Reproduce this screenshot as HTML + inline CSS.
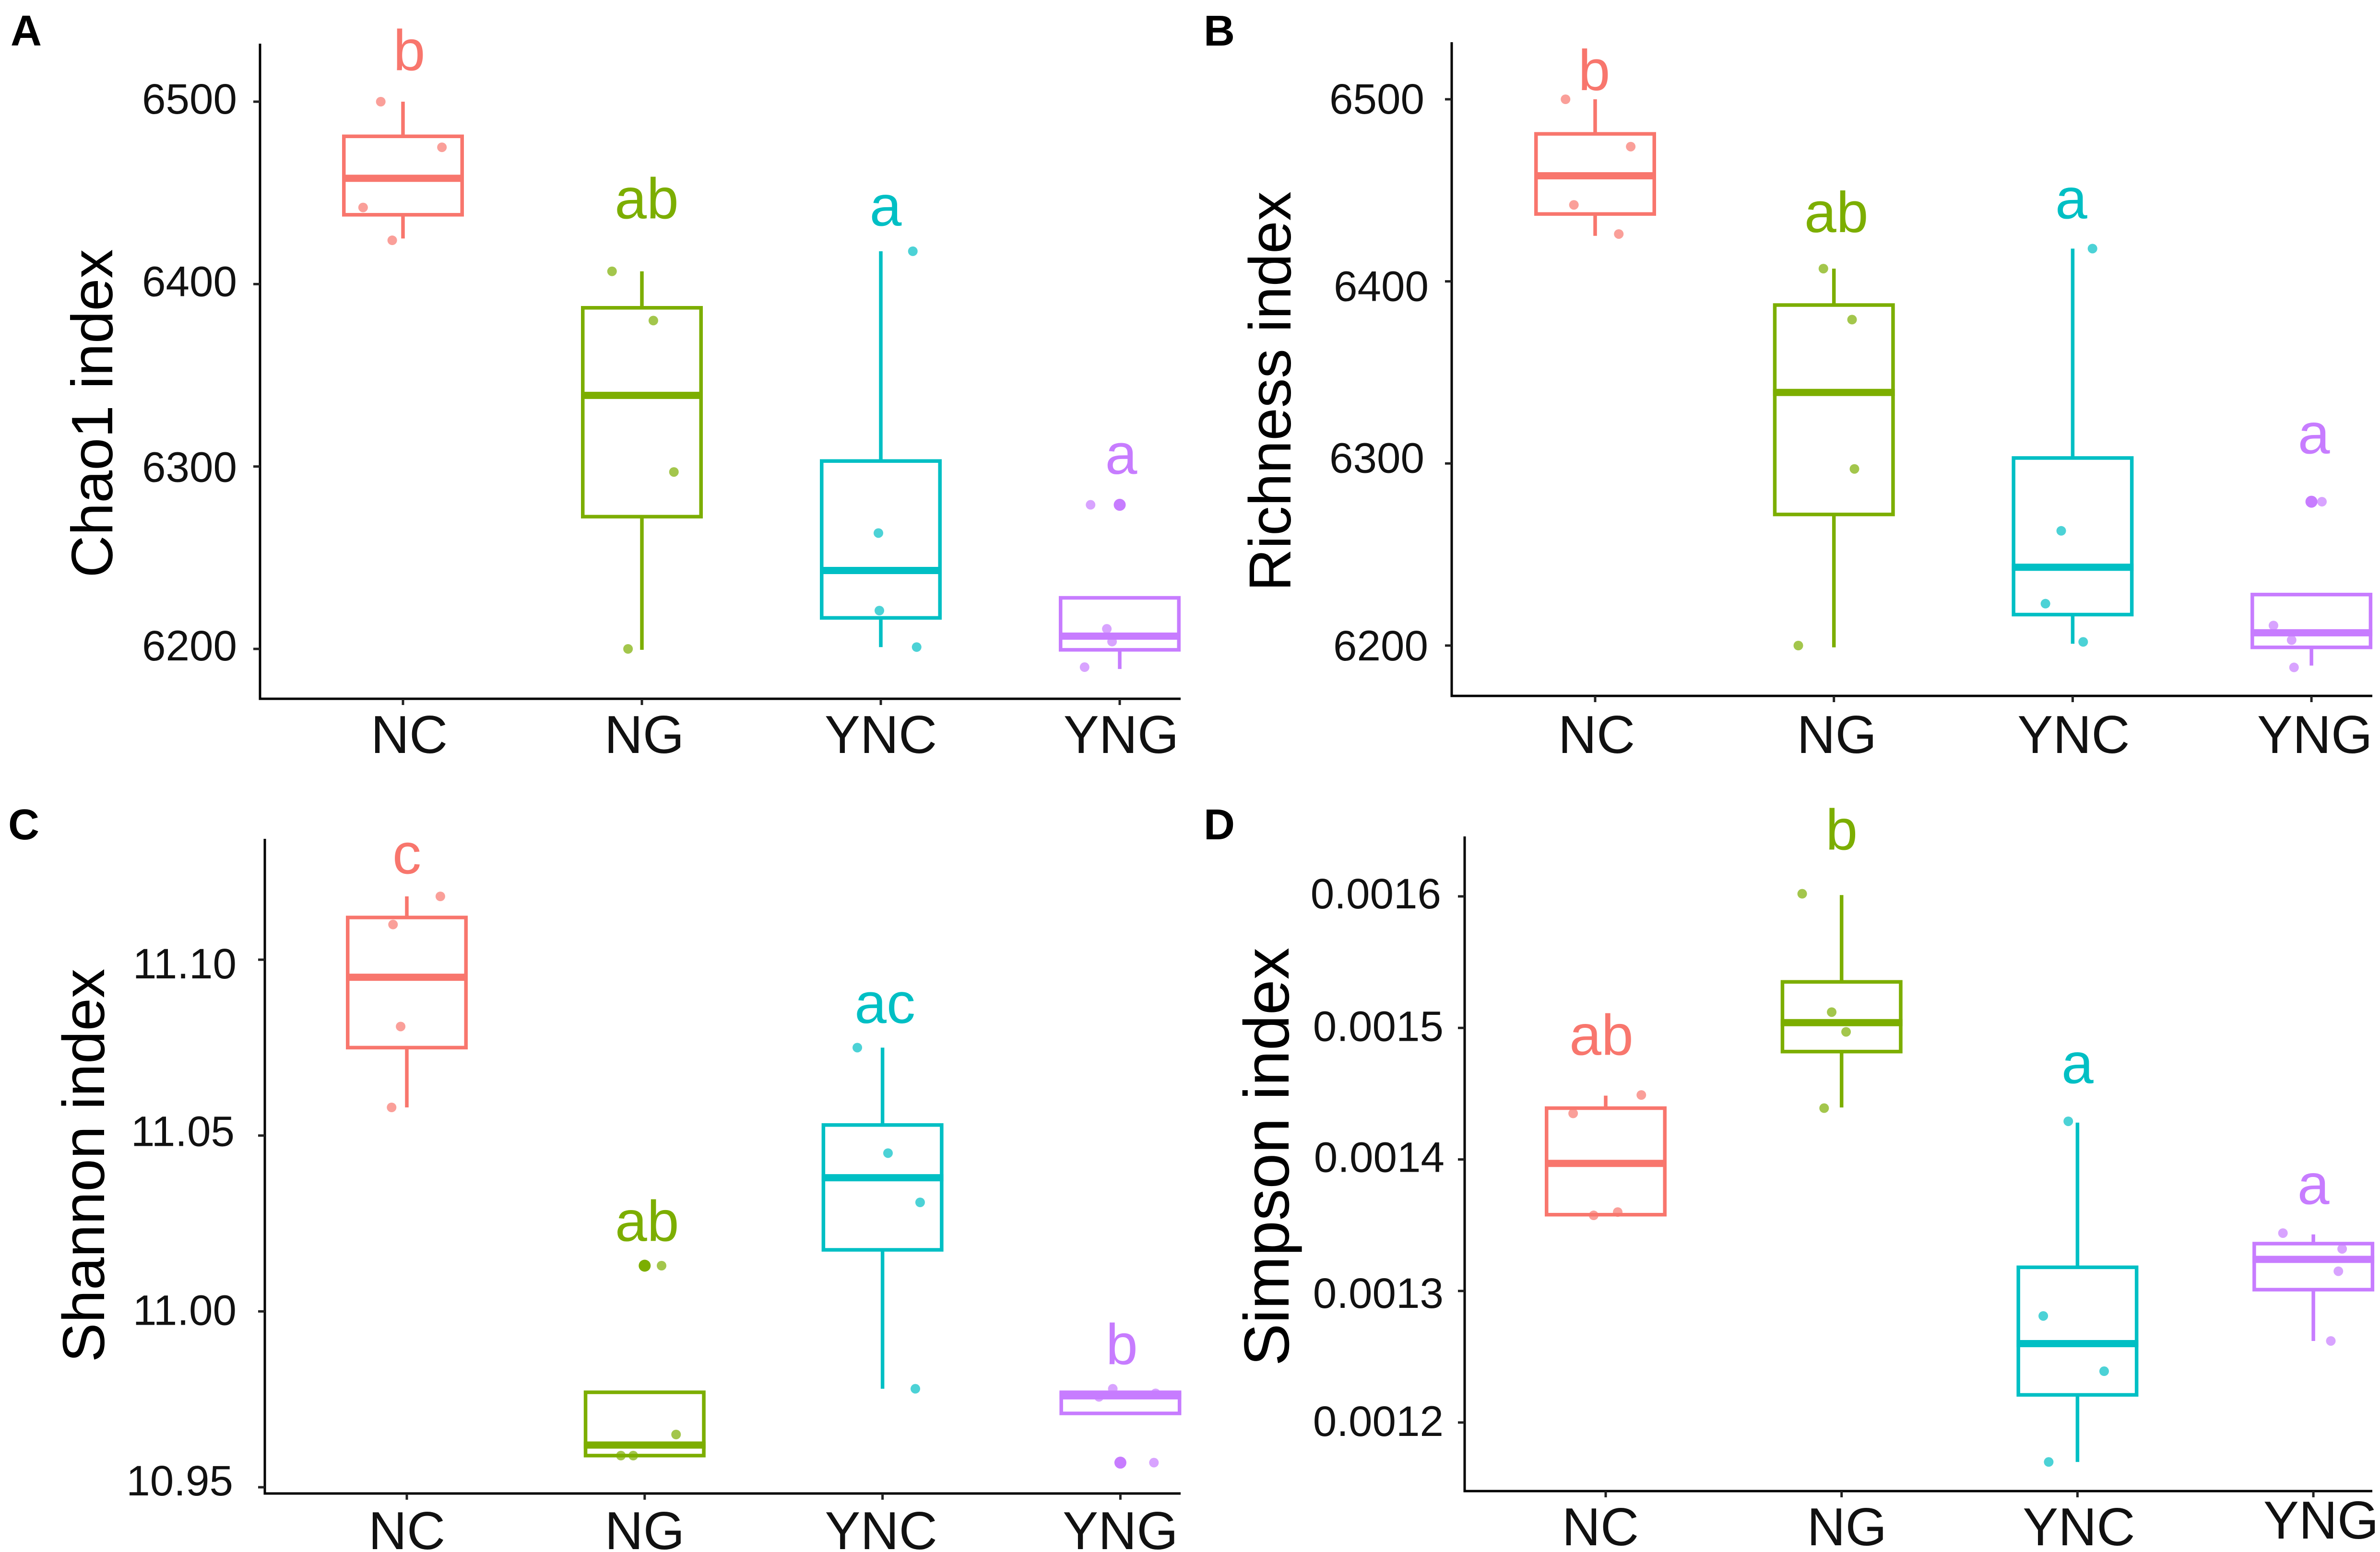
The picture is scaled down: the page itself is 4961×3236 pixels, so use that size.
<!DOCTYPE html>
<html lang="en">
<head>
<meta charset="utf-8">
<title>Alpha diversity boxplots</title>
<style>
html,body{margin:0;padding:0;background:#fff}
svg{display:block}
text{font-family:"Liberation Sans",Arial,sans-serif}
</style>
</head>
<body>
<svg id="chart" xmlns="http://www.w3.org/2000/svg" width="4961" height="3236" viewBox="0 0 4961 3236"></svg>
<script>
const categories = ['NC', 'NG', 'YNC', 'YNG'];
const colors = ['#F8766D', '#7CAE00', '#00BFC4', '#C77CFF'];

// Panel A
const chaoTicks = [6500, 6400, 6300, 6200];
const chaoTickLabels = ['6500', '6400', '6300', '6200'];
const chaoQ1 = [6438, 6272.5, 6217, 6199.5];
const chaoMedian = [6458, 6339, 6243, 6207];
const chaoQ3 = [6481, 6387, 6303, 6228];
const chaoWhiskerLow = [6425, 6199.5, 6201, 6189];
const chaoWhiskerHigh = [6500, 6407, 6418, 6228];
const chaoOutliers = [null, null, null, 6279];
const chaoPoints = [[6500, 6475, 6442, 6424], [6407, 6380, 6297, 6200], [6418, 6263.5, 6221, 6201], [6279, 6211, 6204, 6190]];
const chaoJitter = [[-0.093, 0.163, -0.167, -0.045], [-0.125, 0.048, 0.134, -0.058], [0.134, -0.01, -0.006, 0.15], [-0.122, -0.054, -0.032, -0.147]];
const chaoLetters = ['b', 'ab', 'a', 'a'];
const chaoLetterLevels = [6517.2, 6436, 6432, 6296];

// Panel B
const richTicks = [6500, 6400, 6300, 6200];
const richTickLabels = ['6500', '6400', '6300', '6200'];
const richQ1 = [6437, 6272, 6217, 6199];
const richMedian = [6458, 6339, 6243, 6207];
const richQ3 = [6481, 6387, 6303, 6228];
const richWhiskerLow = [6425, 6199, 6201, 6189];
const richWhiskerHigh = [6500, 6407, 6418, 6228];
const richOutliers = [null, null, null, 6279];
const richPoints = [[6500, 6474, 6442, 6426], [6407, 6379, 6297, 6200], [6418, 6263, 6223, 6202], [6279, 6211, 6203, 6188]];
const richJitter = [[-0.124, 0.149, -0.089, 0.099], [-0.044, 0.076, 0.086, -0.149], [0.083, -0.048, -0.114, 0.044], [0.044, -0.159, -0.083, -0.073]];
const richLetters = ['b', 'ab', 'a', 'a'];
const richLetterLevels = [6505, 6427, 6434.5, 6305.5];

// Panel C
const shanTicks = [11.10, 11.05, 11.00, 10.95];
const shanTickLabels = ['11.10', '11.05', '11.00', '10.95'];
const shanQ1 = [11.075, 10.959, 11.0175, 10.971];
const shanMedian = [11.095, 10.962, 11.038, 10.976];
const shanQ3 = [11.112, 10.977, 11.053, 10.977];
const shanWhiskerLow = [11.058, 10.959, 10.978, 10.971];
const shanWhiskerHigh = [11.118, 10.977, 11.075, 10.977];
const shanOutliers = [null, 11.013, null, 10.957];
const shanPoints = [[11.118, 11.110, 11.081, 11.058], [11.013, 10.965, 10.959, 10.959], [11.075, 11.045, 11.031, 10.978], [10.978, 10.9757, 10.9767, 10.957]];
const shanJitter = [[0.141, -0.058, -0.026, -0.064], [0.071, 0.132, -0.1, -0.048], [-0.106, 0.023, 0.158, 0.138], [-0.032, -0.09, 0.148, 0.141]];
const shanLetters = ['c', 'ab', 'ac', 'b'];
const shanLetterLevels = [11.1245, 11.0200, 11.082, 10.985];

// Panel D
const simpTicks = [0.0016, 0.0015, 0.0014, 0.0013, 0.0012];
const simpTickLabels = ['0.0016', '0.0015', '0.0014', '0.0013', '0.0012'];
const simpQ1 = [0.001358, 0.001482, 0.001221, 0.001301];
const simpMedian = [0.001397, 0.001504, 0.00126, 0.001324];
const simpQ3 = [0.001439, 0.001535, 0.001318, 0.001336];
const simpWhiskerLow = [0.001358, 0.0014395, 0.00117, 0.001262];
const simpWhiskerHigh = [0.0014485, 0.001601, 0.001428, 0.001343];
const simpOutliers = [null, null, null, null];
const simpPoints = [[0.001449, 0.001435, 0.0013575, 0.00136], [0.001602, 0.001512, 0.001497, 0.001439], [0.001429, 0.001281, 0.001239, 0.00117], [0.001344, 0.001332, 0.001315, 0.001262]];
const simpJitter = [[0.151, -0.138, -0.051, 0.051], [-0.167, -0.042, 0.019, -0.074], [-0.039, -0.145, 0.113, -0.122], [-0.129, 0.122, 0.106, 0.074]];
const simpLetters = ['ab', 'b', 'a', 'a'];
const simpLetterLevels = [0.0014795, 0.0016355, 0.001458, 0.001366];

const NS = 'http://www.w3.org/2000/svg';
const root = document.getElementById('chart');

function node(tag, parent, props) {
  const el = document.createElementNS(NS, tag);
  for (const k in props) el.setAttribute(k, props[k]);
  parent.appendChild(el);
  return el;
}

function drawPanel(p) {
  const g = node('g', root, {});
  
  

  const xScale = i => p.x0 + i * p.dx;
  const yScale = v => p.yA + (v - p.tickA) * (p.yB - p.yA) / (p.tickB - p.tickA);

  const tag = node('text', g, {x: p.tagX, y: p.tagY, 'font-size': 90, 'font-weight': 'bold', fill: '#000'});
  
  
  tag.textContent = p.id;

  const title = node('text', g, {
    x: 0, y: 0, 'font-size': p.titleSize, fill: '#000', 'text-anchor': 'middle',
    transform: 'translate(' + p.titleX + ' ' + p.titleY + ') rotate(-90)'
  });
  
  
  title.textContent = p.title;

  const yAxis = node('line', g, {x1: p.axisX, x2: p.axisX, y1: p.axisTop, y2: p.axisBottom + 2.5, stroke: '#000', 'stroke-width': 5});
  
  

  const xAxis = node('line', g, {x1: p.axisX, x2: p.axisRight, y1: p.axisBottom, y2: p.axisBottom, stroke: '#000', 'stroke-width': 5});
  
  

  p.ticks.forEach((t, i) => {
    const py = yScale(t);
    const mark = node('line', g, {x1: p.axisX - 14, x2: p.axisX, y1: py, y2: py, stroke: '#222', 'stroke-width': 5});
    
    
    const lab = node('text', g, {x: p.tickRight[i], y: py + p.tickDy[i] + 32, 'font-size': 89, fill: '#111', 'text-anchor': 'end'});
    
    
    lab.textContent = p.tickLabels[i];
  });

  categories.forEach((c, i) => {
    const cx = xScale(i);
    const col = colors[i];
    const hw = 127;

    const mark = node('line', g, {x1: cx, x2: cx, y1: p.axisBottom, y2: p.axisBottom + 13, stroke: '#222', 'stroke-width': 5});
    
    

    const lab = node('text', g, {x: cx + p.xLabelDx[i], y: p.xLabelY[i], 'font-size': 111, fill: '#111', 'text-anchor': 'middle'});
    
    
    lab.textContent = c;

    const wHi = node('line', g, {x1: cx, x2: cx, y1: yScale(p.hi[i]), y2: yScale(p.q3[i]), stroke: col, 'stroke-width': 7.5});
    
    

    const wLo = node('line', g, {x1: cx, x2: cx, y1: yScale(p.q1[i]), y2: yScale(p.lo[i]), stroke: col, 'stroke-width': 7.5});
    
    

    const box = node('rect', g, {
      x: cx - hw + 3.75, width: 2 * hw - 7.5,
      y: yScale(p.q3[i]), height: yScale(p.q1[i]) - yScale(p.q3[i]),
      fill: 'none', stroke: col, 'stroke-width': 7.5
    });
    
    

    const med = node('line', g, {x1: cx - hw, x2: cx + hw, y1: yScale(p.median[i]), y2: yScale(p.median[i]), stroke: col, 'stroke-width': 15});
    
    

    if (p.outliers[i] !== null) {
      const out = node('circle', g, {cx: cx, cy: yScale(p.outliers[i]), r: 12.5, fill: col});
      
      
    }

    p.points[i].forEach((v, j) => {
      const dot = node('circle', g, {cx: cx + p.jitter[i][j] * p.dx, cy: yScale(v), r: 10, fill: col, 'fill-opacity': 0.7});
      
      
    });

    const letter = node('text', g, {x: cx + p.letterDx[i], y: yScale(p.letterLevels[i]), 'font-size': 120, fill: col, 'text-anchor': 'middle'});
    
    
    letter.textContent = p.letters[i];
  });
}

drawPanel({
  id: 'A', title: 'Chao1 index', titleSize: 122, tagX: 22, tagY: 95, titleX: 234, titleY: 862,
  x0: 840, dx: 498, axisX: 542, axisTop: 91, axisBottom: 1457, axisRight: 2461,
  tickA: 6200, yA: 1353, tickB: 6500, yB: 212,
  tickRight: [494, 494, 494, 494], tickDy: [-7, -7, 0, -8],
  xLabelDx: [13, 5, 0, 3], xLabelY: [1570, 1570, 1570, 1570], letterDx: [13, 10, 10, 3],
  ticks: chaoTicks, tickLabels: chaoTickLabels, q1: chaoQ1, median: chaoMedian, q3: chaoQ3,
  lo: chaoWhiskerLow, hi: chaoWhiskerHigh, outliers: chaoOutliers, points: chaoPoints, jitter: chaoJitter,
  letters: chaoLetters, letterLevels: chaoLetterLevels
});

drawPanel({
  id: 'B', title: 'Richness index', titleSize: 123, tagX: 2509, tagY: 95, titleX: 2690, titleY: 816,
  x0: 3325, dx: 497.7, axisX: 3026, axisTop: 88, axisBottom: 1451, axisRight: 4945,
  tickA: 6200, yA: 1346, tickB: 6500, yB: 207,
  tickRight: [2969, 2978, 2969, 2977], tickDy: [-2, 9, -13, -1],
  xLabelDx: [3, 6, 2, 7], xLabelY: [1570, 1570, 1570, 1570], letterDx: [-2, 5, -3, 5],
  ticks: richTicks, tickLabels: richTickLabels, q1: richQ1, median: richMedian, q3: richQ3,
  lo: richWhiskerLow, hi: richWhiskerHigh, outliers: richOutliers, points: richPoints, jitter: richJitter,
  letters: richLetters, letterLevels: richLetterLevels
});

drawPanel({
  id: 'C', title: 'Shannon index', titleSize: 123, tagX: 17, tagY: 1750, titleX: 217, titleY: 2430,
  x0: 848, dx: 495.8, axisX: 552, axisTop: 1749, axisBottom: 3114, axisRight: 2461,
  tickA: 10.95, yA: 3101, tickB: 11.10, yB: 2001,
  tickRight: [493, 489, 493, 486], tickDy: [7, -10, -4, -15],
  xLabelDx: [0, 0, -3, 0], xLabelY: [3230, 3230, 3230, 3230], letterDx: [0, 5, 5, 3],
  ticks: shanTicks, tickLabels: shanTickLabels, q1: shanQ1, median: shanMedian, q3: shanQ3,
  lo: shanWhiskerLow, hi: shanWhiskerHigh, outliers: shanOutliers, points: shanPoints, jitter: shanJitter,
  letters: shanLetters, letterLevels: shanLetterLevels
});

drawPanel({
  id: 'D', title: 'Simpson index', titleSize: 133, tagX: 2509, tagY: 1750, titleX: 2686, titleY: 2412,
  x0: 3347, dx: 491.7, axisX: 3053, axisTop: 1744, axisBottom: 3109, axisRight: 4945,
  tickA: 0.0012, yA: 2966, tickB: 0.0016, yB: 1869,
  tickRight: [3004, 3009, 3011, 3009, 3009], tickDy: [-7, -5, -6, 3, -4],
  xLabelDx: [-11, 11, 3, 16], xLabelY: [3222, 3222, 3222, 3208], letterDx: [-9, 0, 0, 0],
  ticks: simpTicks, tickLabels: simpTickLabels, q1: simpQ1, median: simpMedian, q3: simpQ3,
  lo: simpWhiskerLow, hi: simpWhiskerHigh, outliers: simpOutliers, points: simpPoints, jitter: simpJitter,
  letters: simpLetters, letterLevels: simpLetterLevels
});
</script>
</body>
</html>
